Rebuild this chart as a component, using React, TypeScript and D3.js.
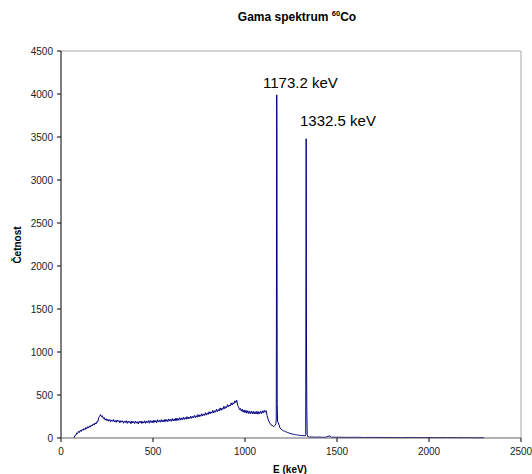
import React from "react";
import * as d3 from "d3";

// continuum, 70..1165 keV every 5 keV (one row = 100 keV)
const contStart = 70;
const contStep = 5;
const contCounts = [
  0, 26, 30, 58, 50, 78, 64, 90, 76, 100, 88, 110, 96, 122, 106, 132, 116, 142, 126, 152,
  140, 164, 150, 176, 162, 190, 188, 236, 254, 272, 248, 258, 226, 238, 208, 224, 200, 218, 196, 214,
  188, 210, 194, 216, 186, 206, 182, 210, 190, 204, 178, 202, 184, 200, 172, 198, 180, 202, 170, 196,
  178, 194, 166, 198, 174, 192, 168, 196, 172, 190, 164, 194, 176, 198, 168, 192, 174, 200, 170, 196,
  178, 202, 172, 204, 180, 200, 176, 208, 182, 204, 178, 212, 186, 206, 184, 214, 188, 210, 186, 218,
  192, 214, 190, 222, 196, 218, 194, 226, 198, 222, 200, 232, 202, 228, 206, 236, 208, 234, 212, 242,
  216, 238, 218, 248, 222, 244, 226, 254, 228, 252, 234, 262, 236, 260, 242, 272, 246, 270, 252, 282,
  256, 280, 262, 294, 266, 292, 274, 306, 280, 304, 288, 320, 292, 318, 300, 334, 306, 332, 314, 350,
  322, 348, 332, 368, 340, 366, 352, 388, 360, 384, 372, 408, 384, 410, 398, 432, 412, 440, 380, 362,
  330, 344, 312, 336, 300, 326, 294, 322, 288, 318, 284, 314, 280, 312, 282, 310, 278, 306, 280, 310,
  276, 306, 282, 312, 284, 316, 290, 322, 300, 318, 260, 222, 196, 170, 162, 144, 146, 130, 142, 150,
];

// photopeaks 1173.2 and 1332.5 keV with surroundings
const peakE = [
  1168, 1170, 1171.5, 1172.5, 1173.5, 1175, 1177, 1180, 1185, 1190, 1195, 1200, 1205, 1210,
  1215, 1220, 1225, 1230, 1235, 1240, 1245, 1250, 1255, 1260, 1265, 1270, 1275, 1280, 1285,
  1290, 1295, 1300, 1305, 1310, 1315, 1320, 1325, 1328, 1330, 1331.5, 1332.5, 1334, 1336,
  1338, 1342, 1350,
];
const peakC = [
  170, 220, 2600, 3990, 3400, 400, 190, 185, 150, 118, 105, 96, 88, 82, 80, 74, 70, 64, 62,
  56, 54, 50, 48, 45, 42, 40, 38, 36, 35, 33, 32, 30, 30, 28, 28, 27, 26, 25, 40, 2000, 3480,
  1200, 320, 40, 15, 10,
];

// flat tail
const tailE = [
  1360, 1380, 1400, 1420, 1440, 1458, 1462, 1470, 1500, 1550, 1600, 1650, 1700, 1750, 1800,
  1850, 1900, 1950, 2000, 2050, 2100, 2150, 2200, 2250, 2300,
];
const tailC = [12, 9, 11, 8, 9, 24, 20, 8, 9, 7, 8, 6, 7, 6, 6, 5, 6, 5, 5, 4, 5, 4, 4, 3, 3];

const xTicks = [0, 500, 1000, 1500, 2000, 2500];
const yTicks = [0, 500, 1000, 1500, 2000, 2500, 3000, 3500, 4000, 4500];

const W = 532;
const H = 474;
const m = { left: 61, right: 521, top: 51, bottom: 438 };

export default function App() {
  const x = d3.scaleLinear().domain([0, 2500]).range([m.left, m.right]);
  const y = d3.scaleLinear().domain([0, 4500]).range([m.bottom, m.top]);

  const pts: [number, number][] = [];
  contCounts.forEach((c, i) => pts.push([contStart + i * contStep, c]));
  peakE.forEach((e, i) => pts.push([e, peakC[i]]));
  tailE.forEach((e, i) => pts.push([e, tailC[i]]));

  const line = d3
    .line<[number, number]>()
    .x(d => x(d[0]))
    .y(d => y(d[1]));

  const font = "'Liberation Sans', Arial, sans-serif";

  return (
    <svg
      width={W}
      height={H}
      style={{ position: "absolute", left: 0, top: 0, background: "#fff" }}
      fontFamily={font}
    >
      <text x={297} y={21} textAnchor="middle" fontSize={12} fontWeight="bold">
        Gama spektrum{" "}
        <tspan fontSize={7.5} dy={-5}>60</tspan>
        <tspan dy={5}>Co</tspan>
      </text>

      {/* plot frame */}
      <line x1={m.left} x2={m.right} y1={m.top} y2={m.top} stroke="#a8a8a8" />
      <line x1={m.right} x2={m.right} y1={m.top} y2={m.bottom} stroke="#a8a8a8" />

      <path d={line(pts) || ""} fill="none" stroke="#000080" strokeWidth={1} />

      {/* axes */}
      <line x1={m.left} x2={m.left} y1={m.top} y2={m.bottom} stroke="#000" />
      <line x1={m.left} x2={m.right} y1={m.bottom} y2={m.bottom} stroke="#666" />
      {yTicks.map(t => (
        <g key={"y" + t}>
          <line x1={m.left - 4} x2={m.left} y1={y(t)} y2={y(t)} stroke="#000" />
          <text x={m.left - 8} y={y(t) + 3.5} textAnchor="end" fontSize={10} fill="#222">
            {t}
          </text>
        </g>
      ))}
      {xTicks.map(t => (
        <g key={"x" + t}>
          <line x1={x(t)} x2={x(t)} y1={m.bottom} y2={m.bottom + 4} stroke="#000" />
          <text x={x(t)} y={m.bottom + 17} textAnchor="middle" fontSize={10} fill="#222">
            {t}
          </text>
        </g>
      ))}

      <text
        transform={`translate(21,245) rotate(-90)`}
        textAnchor="middle"
        fontSize={10}
        fontWeight="bold"
      >
        Četnost
      </text>
      <text x={290} y={473} textAnchor="middle" fontSize={10} fontWeight="bold">
        E (keV)
      </text>

      <text x={263} y={88} fontSize={15}>1173.2 keV</text>
      <text x={300} y={126} fontSize={15}>1332.5 keV</text>
    </svg>
  );
}
